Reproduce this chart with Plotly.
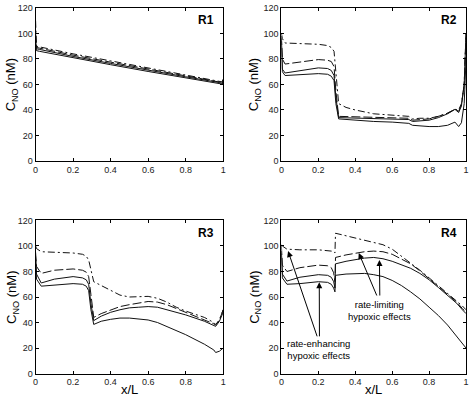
import plotly.graph_objects as go

# ---------------- data ----------------
panel_names = ["R1", "R2", "R3", "R4"]
series_dash = ["7px,3px,2px,3px", "9px,3px", "solid", "solid"]

x_r1 = [0, 0.005, 0.02, 0.2, 0.4, 0.6, 0.8, 0.98, 0.995, 1.0]
r1_dd = [110, 90, 89.5, 84, 78.5, 73, 67.5, 62.5, 62, 65]
r1_ld = [100, 89, 88.5, 83, 77.5, 72, 66.8, 62, 61.5, 64]
r1_s1 = [95, 88, 87.5, 82, 76.5, 71, 66, 61.5, 61, 63]
r1_s2 = [92, 86.5, 86, 80.8, 75.5, 70.2, 65.2, 60.8, 60.3, 62]

x_r2 = [0, 0.005, 0.02, 0.1, 0.2, 0.25, 0.27, 0.285, 0.295, 0.31, 0.35, 0.4, 0.5,
        0.6, 0.69, 0.71, 0.75, 0.8, 0.85, 0.9, 0.94, 0.96, 0.975, 0.99, 1.0]
r2_dd = [100, 96, 92.5, 92, 91.5, 90.5, 89, 86, 70, 45, 42, 40, 37,
         36, 35, 33, 33.5, 33.5, 35, 37.5, 40.5, 40, 45, 60, 100]
r2_ld = [98, 80, 76, 77.5, 79.5, 79, 78, 74, 55, 35, 34.8, 34.5, 34.2,
         34, 33.5, 32, 32.5, 33, 35, 37.5, 40.5, 39, 44, 60, 100]
r2_s1 = [96, 72, 69, 71, 73, 72.5, 71, 67, 50, 34, 33.8, 33.5, 33,
         33, 32.5, 31, 31.5, 32, 34, 37, 40.5, 38, 43, 60, 100]
r2_s2 = [94, 70, 67, 67.5, 68.5, 68, 66.5, 63, 45, 33, 32.5, 32, 31,
         30.5, 29.5, 28, 27.5, 27, 27, 28, 30.5, 27, 30, 45, 80]

x_r3 = [0, 0.005, 0.03, 0.1, 0.2, 0.25, 0.27, 0.283, 0.295, 0.31, 0.35, 0.4, 0.45,
        0.5, 0.55, 0.6, 0.65, 0.7, 0.75, 0.8, 0.9, 0.95, 0.96, 0.98, 1.0]
r3_dd = [100, 98, 95.5, 95, 94.5, 93.5, 92, 89, 82, 72, 69, 65, 61.5,
         60, 60.5, 60.5, 59, 56, 52, 49, 44, 40, 38.5, 42, 50]
r3_ld = [95, 84, 78.5, 81, 82, 81, 79.5, 76, 62, 44, 47, 50, 52.5,
         54, 55.5, 56.5, 56, 54, 51, 48, 42.5, 39, 38, 42, 50]
r3_s1 = [92, 78, 71, 74, 76, 75, 73.5, 70, 55, 41.5, 45, 48, 50,
         51.5, 52, 52.5, 52, 50, 48, 46, 41, 38, 37, 41, 48]
r3_s2 = [90, 74, 68.5, 69.5, 70.5, 70, 68.5, 65, 50, 38.5, 41, 42.5, 43.5,
         43.5, 43, 42, 40, 37, 34, 30.5, 23, 18.5, 16.5, 17.5, 20]

x_r4 = [0, 0.005, 0.03, 0.1, 0.2, 0.25, 0.27, 0.283, 0.29, 0.293, 0.35, 0.4, 0.45,
        0.5, 0.55, 0.6, 0.65, 0.7, 0.75, 0.8, 0.85, 0.9, 0.95, 0.98, 1.0]
r4_dd = [101, 100, 97.5, 97, 97, 96.5, 96, 95.5, 94.5, 110, 108, 106.5, 104.5,
         103, 101, 97.5, 92, 87, 81, 75, 69, 63, 57, 53, 50]
r4_ld = [100, 85, 80, 83, 85, 84.5, 83, 79, 72, 91, 93, 94.5, 95.5,
         96, 95.5, 93.5, 90, 86, 80.5, 74.5, 68.5, 62.5, 56, 51, 48]
r4_s1 = [96, 78, 72.5, 75.5, 77.5, 77, 75.5, 72, 67, 86, 88, 89.5, 90.5,
         91, 90, 88, 85.5, 82.5, 78.5, 73.5, 67.5, 61.5, 55, 50, 47]
r4_s2 = [94, 75, 70, 70.5, 72, 71.5, 70, 67, 64, 77, 78, 78.5, 78.5,
         77.5, 76, 73, 69, 64, 58.5, 52, 45.5, 38, 29, 23.5, 20]

panels = [
    (x_r1, [r1_dd, r1_ld, r1_s1, r1_s2]),
    (x_r2, [r2_dd, r2_ld, r2_s1, r2_s2]),
    (x_r3, [r3_dd, r3_ld, r3_s1, r3_s2]),
    (x_r4, [r4_dd, r4_ld, r4_s1, r4_s2]),
]

x_ticks = [0, 0.2, 0.4, 0.6, 0.8, 1]
x_tick_text = ["0", "0.2", "0.4", "0.6", "0.8", "1"]
y_ticks = [0, 20, 40, 60, 80, 100, 120]

# annotation texts for R4
enh_text = "rate-enhancing<br>hypoxic effects"
lim_text = "rate-limiting<br>hypoxic effects"

# ---------------- layout ----------------
W, H = 472, 400
# pixel boxes (left, right, top, bottom)
boxes = [(33, 223, 3, 160), (282, 469, 3, 160), (33, 223, 221, 378), (282, 469, 221, 378)]

FONT = "Liberation Sans, Arial, sans-serif"
fig = go.Figure()

for i, (xs, ys_list) in enumerate(panels):
    sfx = "" if i == 0 else str(i + 1)
    for ys, dash in zip(ys_list, series_dash):
        fig.add_trace(go.Scatter(
            x=xs, y=ys, mode="lines",
            line=dict(color="#111111", width=1, dash=dash),
            xaxis="x" + sfx, yaxis="y" + sfx, showlegend=False,
            hoverinfo="skip", cliponaxis=True))

axis_common = dict(
    showgrid=False, zeroline=False, showline=True, linecolor="black", linewidth=1,
    mirror="ticks", ticks="inside", ticklen=3, tickcolor="black", tickwidth=1,
    tickfont=dict(family=FONT, size=9, color="#222222"), fixedrange=True)

for i, (l, r, t, b) in enumerate(boxes):
    sfx = "" if i == 0 else str(i + 1)
    fig.layout["xaxis" + sfx] = dict(
        axis_common, domain=[l / W, r / W], range=[0, 1],
        tickvals=x_ticks, ticktext=x_tick_text,
        anchor="y" + sfx)
    fig.layout["yaxis" + sfx] = dict(
        axis_common, domain=[1 - b / H, 1 - t / H], range=[0, 120],
        tickvals=y_ticks, anchor="x" + sfx)

annotations = []
# panel labels
for i, name in enumerate(panel_names):
    sfx = "" if i == 0 else str(i + 1)
    annotations.append(dict(
        x=0.91, y=110.5, xref="x" + sfx, yref="y" + sfx, text="<b>" + name + "</b>",
        showarrow=False, xanchor="center", yanchor="middle",
        font=dict(family=FONT, size=12, color="black")))

# y axis titles
for (xc, yc) in [(9, 81.5), (255, 81.5), (9, 299.5), (255, 299.5)]:
    annotations.append(dict(
        x=xc / W, y=1 - yc / H, xref="paper", yref="paper",
        text="C<sub>NO</sub> (nM)", textangle=-90, showarrow=False,
        xanchor="center", yanchor="middle",
        font=dict(family=FONT, size=13, color="black")))
# x axis titles
for xc in [128, 375.5]:
    annotations.append(dict(
        x=xc / W, y=1 - 394 / H, xref="paper", yref="paper", text="x/L",
        showarrow=False, xanchor="center", yanchor="middle",
        font=dict(family=FONT, size=13, color="black")))

# R4 annotations
annotations.append(dict(x=0.2, y=19, xref="x4", yref="y4", text=enh_text,
                        showarrow=False, xanchor="center", yanchor="middle",
                        font=dict(family=FONT, size=9.5, color="black")))
annotations.append(dict(x=0.533, y=49.5, xref="x4", yref="y4", text=lim_text,
                        showarrow=False, xanchor="center", yanchor="middle",
                        font=dict(family=FONT, size=9.5, color="black")))
arrow_list = [
    (0.036, 96, 0.196, 28),
    (0.205, 71.5, 0.206, 28),
    (0.419, 94.5, 0.52, 60),
    (0.531, 89, 0.533, 60),
]
for (hx, hy, tx, ty) in arrow_list:
    annotations.append(dict(
        x=hx, y=hy, ax=tx, ay=ty, xref="x4", yref="y4", axref="x4", ayref="y4",
        text="", showarrow=True, arrowhead=2, arrowsize=1.2, arrowwidth=1,
        arrowcolor="black", standoff=0, startstandoff=0))

fig.update_layout(
    width=W, height=H, margin=dict(l=0, r=0, t=0, b=0),
    paper_bgcolor="white", plot_bgcolor="white",
    annotations=annotations, showlegend=False)

fig.write_html("out.html", config={"displayModeBar": False},
               post_script="document.body.style.margin='0';document.body.style.overflow='hidden';")
